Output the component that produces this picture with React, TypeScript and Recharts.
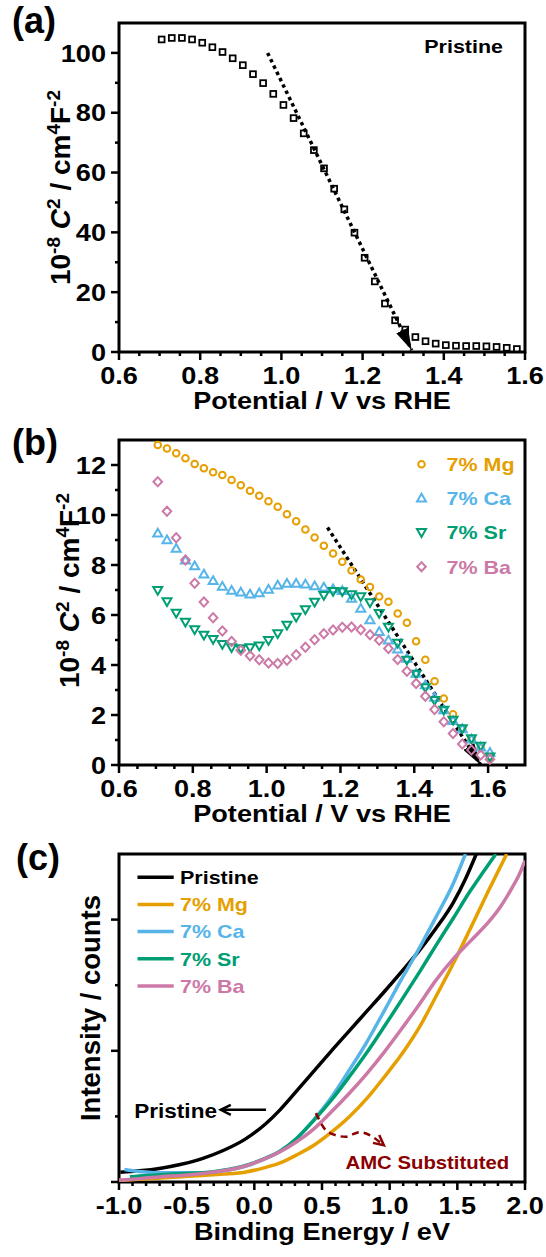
import React from "react";
import { ComposedChart, Scatter, Line, XAxis, YAxis, ReferenceArea } from "recharts";

const FONT = '"Liberation Sans", Arial, Helvetica, sans-serif';
const STRETCH = 1.13; // the source figure is a bit wider than tall
const ORANGE = "#E69F00";
const SKY = "#56B4E9";
const GREEN = "#009E73";
const PINK = "#CC79A7";
const DARKRED = "#8B0000";

// ---- (a) pristine Mott-Schottky ----
const potentialA = [
  0.705, 0.73, 0.755, 0.78, 0.805, 0.83, 0.855, 0.88, 0.905, 0.93, 0.955, 0.98,
  1.005, 1.03, 1.055, 1.08, 1.105, 1.13, 1.155, 1.18, 1.205, 1.23, 1.255, 1.28,
  1.305, 1.33, 1.355, 1.38, 1.405, 1.43, 1.455, 1.48, 1.505, 1.53, 1.555, 1.58,
];
const pristineA = [
  104.5, 105.0, 105.0, 104.5, 103.4, 101.9, 100.3, 98.2, 95.9, 92.9, 89.9, 86.3,
  82.6, 78.2, 73.1, 67.5, 61.4, 54.6, 47.7, 39.9, 31.5, 23.6, 16.2, 10.6,
  7.5, 5.0, 3.6, 2.8, 2.3, 2.1, 2.0, 2.0, 1.9, 1.7, 1.4, 1.0,
];
const fitAx = [0.966, 1.321];
const fitAy = [100, 0.6];

// ---- (b) substituted Mott-Schottky ----
const potentialB = [
  0.705, 0.73, 0.755, 0.78, 0.805, 0.83, 0.855, 0.88, 0.905, 0.93, 0.955, 0.98,
  1.005, 1.03, 1.055, 1.08, 1.105, 1.13, 1.155, 1.18, 1.205, 1.23, 1.255, 1.28,
  1.305, 1.33, 1.355, 1.38, 1.405, 1.43, 1.455, 1.48, 1.505, 1.53, 1.555, 1.58, 1.605,
];
const mgB = [
  12.8, 12.66, 12.47, 12.27, 12.04, 11.87, 11.71, 11.6, 11.4, 11.19, 10.97, 10.77,
  10.55, 10.33, 10.03, 9.75, 9.42, 9.1, 8.77, 8.46, 8.13, 7.78, 7.42, 7.12,
  6.74, 6.53, 6.06, 5.69, 4.95, 4.21, 3.35, 2.66, 2.03, 1.46, 1.02, 0.68, 0.28,
];
const caB = [
  9.27, 9.0, 8.66, 8.19, 7.96, 7.63, 7.37, 7.14, 6.98, 6.91, 6.83, 6.88,
  7.02, 7.19, 7.26, 7.26, 7.23, 7.16, 7.11, 7.04, 6.97, 6.66, 6.26, 5.8,
  5.33, 4.99, 4.63, 4.26, 3.66, 3.2, 2.7, 2.2, 1.77, 1.44, 1.03, 0.71, 0.5,
];
const srB = [
  6.99, 6.54, 6.08, 5.72, 5.42, 5.2, 5.03, 4.83, 4.7, 4.66, 4.7, 4.77,
  4.99, 5.26, 5.6, 5.92, 6.22, 6.52, 6.79, 6.95, 6.94, 6.82, 6.74, 6.5,
  6.07, 5.52, 4.88, 4.2, 3.64, 3.1, 2.59, 2.2, 1.8, 1.46, 1.06, 0.76, 0.33,
];
const baB = [
  11.33, 10.15, 9.09, 8.2, 7.27, 6.52, 5.89, 5.36, 4.94, 4.59, 4.37, 4.21,
  4.08, 4.06, 4.19, 4.41, 4.71, 5.01, 5.25, 5.4, 5.51, 5.52, 5.41, 5.21,
  4.99, 4.66, 4.22, 3.75, 3.26, 2.75, 2.22, 1.73, 1.26, 0.84, 0.6, 0.4, 0.23,
];
const fitBx = [1.165, 1.58];
const fitBy = [9.5, 0];

// ---- (c) valence band spectra ----
const pristineCx = [-0.99, -0.85, -0.69, -0.54, -0.38, -0.23, -0.07, 0.08, 0.19, 0.31, 0.44, 0.57, 0.7, 0.83, 0.96, 1.09, 1.22, 1.34, 1.47, 1.56, 1.64];
const pristineCy = [0.15, 0.17, 0.21, 0.27, 0.36, 0.48, 0.65, 0.88, 1.1, 1.38, 1.69, 2.0, 2.3, 2.6, 2.9, 3.21, 3.53, 3.86, 4.26, 4.62, 5.0];
const mgCx = [-1.0, -0.85, -0.69, -0.54, -0.38, -0.23, -0.07, 0.08, 0.19, 0.31, 0.44, 0.57, 0.7, 0.83, 0.96, 1.09, 1.22, 1.34, 1.47, 1.6, 1.73, 1.865];
const mgCy = [0.025, 0.04, 0.06, 0.08, 0.1, 0.12, 0.15, 0.22, 0.29, 0.41, 0.56, 0.76, 0.99, 1.27, 1.6, 1.95, 2.36, 2.82, 3.33, 3.88, 4.44, 5.0];
const caCx = [-0.96, -0.85, -0.69, -0.54, -0.38, -0.23, -0.07, 0.08, 0.19, 0.31, 0.44, 0.57, 0.7, 0.83, 0.96, 1.09, 1.215, 1.34, 1.47, 1.56];
const caCy = [0.19, 0.16, 0.14, 0.14, 0.14, 0.17, 0.24, 0.355, 0.47, 0.66, 0.95, 1.29, 1.7, 2.13, 2.61, 3.1, 3.55, 4.03, 4.55, 5.0];
const srCx = [-0.92, -0.85, -0.69, -0.54, -0.38, -0.23, -0.07, 0.08, 0.19, 0.31, 0.44, 0.57, 0.7, 0.83, 0.96, 1.09, 1.22, 1.34, 1.47, 1.59, 1.69, 1.785];
const srCy = [0.08, 0.09, 0.11, 0.13, 0.14, 0.18, 0.25, 0.36, 0.47, 0.66, 0.94, 1.25, 1.6, 1.97, 2.37, 2.78, 3.2, 3.6, 4.02, 4.42, 4.72, 5.0];
const baCx = [-1.0, -0.85, -0.69, -0.54, -0.38, -0.23, -0.07, 0.08, 0.19, 0.31, 0.44, 0.57, 0.7, 0.83, 0.96, 1.09, 1.22, 1.34, 1.47, 1.6, 1.73, 1.82, 1.9, 1.96, 2.0];
const baCy = [0.025, 0.05, 0.08, 0.1, 0.13, 0.17, 0.24, 0.355, 0.46, 0.61, 0.81, 1.07, 1.35, 1.65, 1.98, 2.34, 2.71, 3.07, 3.4, 3.68, 3.96, 4.2, 4.47, 4.7, 4.9];
const pristineArrowX = [0.086, -0.248];
const pristineArrowY = [1.1, 1.1];
const amcX = [0.455, 0.545, 0.674, 0.777, 0.957];
const amcY = [1.05, 0.76, 0.69, 0.76, 0.56];

// ---- tick labels ----
const xMajorAB = [0.6, 0.8, 1.0, 1.2, 1.4, 1.6];
const yMajorA = [0, 20, 40, 60, 80, 100];
const yMajorB = [0, 2, 4, 6, 8, 10, 12];
const xMajorC = [-1.0, -0.5, 0.0, 0.5, 1.0, 1.5, 2.0];
const yMajorC = [0, 2, 4];

const zip = (xs: number[], ys: number[]) => xs.map((x, i) => ({ x, y: ys[i] }));

// majors plus evenly split minor ticks, up to (not incl.) max
function withMinors(majors: number[], sub: number, max: number) {
  const step = (majors[1] - majors[0]) / sub;
  const out: number[] = [];
  for (let v = majors[0]; v < max - 1e-9; v += step) out.push(Math.round(v * 1000) / 1000);
  return out;
}
const isIn = (v: number, arr: number[]) => arr.some((m) => Math.abs(m - v) < 1e-6);

// bold Arial, widened like the source
function SText(props: { x: number; y: number; size: number; fill?: string; anchor?: "start" | "middle" | "end"; dy?: string; children: React.ReactNode }) {
  const { x, y, size, fill = "#000", anchor = "start", dy, children } = props;
  return (
    <g transform={`translate(${x} ${y}) scale(${STRETCH} 1)`}>
      <text x={0} y={0} dy={dy} textAnchor={anchor} fontSize={size} fontWeight={700} fontFamily={FONT} fill={fill}>
        {children}
      </text>
    </g>
  );
}

function bottomTick(majors: number[], fmt: (v: number) => string) {
  return (p: any) => {
    const v = p.payload.value;
    const major = isIn(v, majors);
    return (
      <g>
        <line x1={p.x} x2={p.x} y1={p.y} y2={p.y + (major ? 8 : 4)} stroke="#000" strokeWidth={2.5} />
        {major && (
          <SText x={p.x} y={p.y + 15} dy="0.71em" anchor="middle" size={24}>
            {fmt(v)}
          </SText>
        )}
      </g>
    );
  };
}

function leftTick(majors: number[], fmt: ((v: number) => string) | null) {
  return (p: any) => {
    const v = p.payload.value;
    const major = isIn(v, majors);
    return (
      <g>
        <line x1={p.x} x2={p.x - (major ? 8 : 4)} y1={p.y} y2={p.y} stroke="#000" strokeWidth={2.5} />
        {major && fmt && (
          <SText x={p.x - 13} y={p.y} dy="0.36em" anchor="end" size={24}>
            {fmt(v)}
          </SText>
        )}
      </g>
    );
  };
}

const xTitle = (txt: string, off: number) => (p: any) => {
  const vb = p.viewBox;
  return (
    <SText x={vb.x + vb.width / 2} y={vb.y + off} anchor="middle" size={24}>
      {txt}
    </SText>
  );
};

const msTitle = (baseX: number, dyc: number) => (p: any) => {
  const vb = p.viewBox;
  const cx = vb.x + baseX;
  const cy = vb.y + vb.height / 2 + dyc;
  return (
    <text transform={`rotate(-90 ${cx} ${cy})`} x={cx} y={cy} textAnchor="middle" fontSize={28} fontWeight={700} fontFamily={FONT} fill="#000">
      10<tspan dy={-10} fontSize={19}>-8</tspan>
      <tspan dy={10}>{"\u00A0"}</tspan>
      <tspan fontStyle="italic">C</tspan>
      <tspan dy={-10} fontSize={19}>2</tspan>
      <tspan dy={10}>{"\u00A0/ cm"}</tspan>
      <tspan dy={-10} fontSize={19}>4</tspan>
      <tspan dy={10}>F</tspan>
      <tspan dy={-10} fontSize={19}>-2</tspan>
    </text>
  );
};

const plainYTitle = (txt: string, baseX: number, dyc: number) => (p: any) => {
  const vb = p.viewBox;
  const cx = vb.x + baseX;
  const cy = vb.y + vb.height / 2 + dyc;
  return (
    <text transform={`rotate(-90 ${cx} ${cy})`} x={cx} y={cy} textAnchor="middle" fontSize={27.5} fontWeight={700} fontFamily={FONT} fill="#000">
      {txt}
    </text>
  );
};

// open markers
const squareShape = (p: any) => (
  <rect x={p.cx - 2.9} y={p.cy - 2.9} width={5.8} height={5.8} fill="none" stroke="#000" strokeWidth={1.8} />
);
const circleShape = (c: string) => (p: any) => <circle cx={p.cx} cy={p.cy} r={3.3} fill="none" stroke={c} strokeWidth={2} />;
const triUpShape = (c: string) => (p: any) => (
  <polygon points={`${p.cx},${p.cy - 4.6} ${p.cx + 4.5},${p.cy + 3.2} ${p.cx - 4.5},${p.cy + 3.2}`} fill="none" stroke={c} strokeWidth={2} />
);
const triDownShape = (c: string) => (p: any) => (
  <polygon points={`${p.cx},${p.cy + 4.6} ${p.cx + 4.5},${p.cy - 3.2} ${p.cx - 4.5},${p.cy - 3.2}`} fill="none" stroke={c} strokeWidth={2} />
);
const diamondShape = (c: string) => (p: any) => (
  <polygon points={`${p.cx},${p.cy - 4.6} ${p.cx + 4.3},${p.cy} ${p.cx},${p.cy + 4.6} ${p.cx - 4.3},${p.cy}`} fill="none" stroke={c} strokeWidth={2} />
);

const seriesB = [
  { name: "7% Mg", color: ORANGE, values: mgB, shape: circleShape },
  { name: "7% Ca", color: SKY, values: caB, shape: triUpShape },
  { name: "7% Sr", color: GREEN, values: srB, shape: triDownShape },
  { name: "7% Ba", color: PINK, values: baB, shape: diamondShape },
];

const seriesC = [
  { name: "Pristine", color: "#000", xs: pristineCx, ys: pristineCy },
  { name: "7% Mg", color: ORANGE, xs: mgCx, ys: mgCy },
  { name: "7% Ca", color: SKY, xs: caCx, ys: caCy },
  { name: "7% Sr", color: GREEN, xs: srCx, ys: srCy },
  { name: "7% Ba", color: PINK, xs: baCx, ys: baCy },
];

const fmt1 = (v: number) => v.toFixed(1);
const fmt0 = (v: number) => String(v);

const axisCommon = {
  type: "number" as const,
  allowDataOverflow: true,
  interval: 0 as const,
  tickSize: 0,
  tickMargin: 0,
  tickLine: false,
  axisLine: false,
};

const frame = (x1: number, x2: number, y1: number, y2: number) => (
  <ReferenceArea x1={x1} x2={x2} y1={y1} y2={y2} fill="none" stroke="#000" strokeWidth={3} ifOverflow="visible" />
);

export default function App() {
  return (
    <div style={{ position: "absolute", left: 0, top: 0, width: 546, height: 1257, background: "#fff" }}>
      <svg width={0} height={0} style={{ position: "absolute" }}>
        <defs>
          <marker id="headFill" viewBox="0 0 22 13" refX={22} refY={6.5} markerWidth={22} markerHeight={13} markerUnits="userSpaceOnUse" orient="auto">
            <path d="M0,0 L22,6.5 L0,13 Z" fill="#000" />
          </marker>
          <marker id="headOpenBlack" viewBox="0 0 12 12" refX={11} refY={6} markerWidth={12} markerHeight={12} markerUnits="userSpaceOnUse" orient="auto" overflow="visible">
            <path d="M1,1 L11,6 L1,11" fill="none" stroke="#000" strokeWidth={2.5} />
          </marker>
          <marker id="headOpenRed" viewBox="0 0 12 12" refX={11} refY={6} markerWidth={12} markerHeight={12} markerUnits="userSpaceOnUse" orient="auto" overflow="visible">
            <path d="M1,1 L11,6 L1,11" fill="none" stroke={DARKRED} strokeWidth={2.5} />
          </marker>
        </defs>
      </svg>

      {/* (a) */}
      <div style={{ position: "absolute", left: 0, top: 0 }}>
        <ComposedChart width={546} height={420} margin={{ top: 23, right: 21, bottom: 0, left: 0 }}>
          <XAxis {...axisCommon} dataKey="x" domain={[0.6, 1.6]} ticks={withMinors(xMajorAB, 4, 1.6001)} height={68} tick={bottomTick(xMajorAB, fmt1)} label={xTitle("Potential / V vs RHE", 57)} />
          <YAxis {...axisCommon} dataKey="y" domain={[0, 110]} ticks={withMinors(yMajorA, 2, 110)} width={119} tick={leftTick(yMajorA, fmt0)} label={msTitle(70, 0)} />
          {frame(0.6, 1.6, 0, 110)}
          <Scatter data={zip(potentialA, pristineA)} shape={squareShape} isAnimationActive={false} />
          <Line data={zip(fitAx, fitAy)} dataKey="y" type="linear" stroke="#000" strokeWidth={3.5} strokeDasharray="3.5 3.5" dot={false} activeDot={false} markerEnd="url(#headFill)" isAnimationActive={false} />
        </ComposedChart>
      </div>

      {/* (b) */}
      <div style={{ position: "absolute", left: 0, top: 420 }}>
        <ComposedChart width={546} height={420} margin={{ top: 20, right: 21, bottom: 0, left: 0 }}>
          <XAxis {...axisCommon} dataKey="x" domain={[0.6, 1.7]} ticks={withMinors(xMajorAB, 4, 1.7)} height={75} tick={bottomTick(xMajorAB, fmt1)} label={xTitle("Potential / V vs RHE", 57)} />
          <YAxis {...axisCommon} dataKey="y" domain={[0, 13]} ticks={withMinors(yMajorB, 2, 13)} width={119} tick={leftTick(yMajorB, fmt0)} label={msTitle(79, -12)} />
          {frame(0.6, 1.7, 0, 13)}
          {seriesB.map((s) => (
            <Scatter key={s.name} name={s.name} data={zip(potentialB, s.values)} shape={s.shape(s.color)} isAnimationActive={false} />
          ))}
          <Line data={zip(fitBx, fitBy)} dataKey="y" type="linear" stroke="#000" strokeWidth={3.5} strokeDasharray="3.5 3.5" dot={false} activeDot={false} markerEnd="url(#headFill)" isAnimationActive={false} />
        </ComposedChart>
      </div>

      {/* (c) */}
      <div style={{ position: "absolute", left: 0, top: 830 }}>
        <ComposedChart width={546} height={427} margin={{ top: 24, right: 21, bottom: 0, left: 0 }}>
          <XAxis {...axisCommon} dataKey="x" domain={[-1, 2]} ticks={withMinors(xMajorC, 5, 2.0001)} height={75} tick={bottomTick(xMajorC, fmt1)} label={xTitle("Binding Energy / eV", 58)} />
          <YAxis {...axisCommon} dataKey="y" domain={[0, 5]} ticks={withMinors(yMajorC, 2, 5)} width={119} tick={leftTick(yMajorC, null)} label={plainYTitle("Intensity / counts", 100, -10)} />
          {frame(-1, 2, 0, 5)}
          {seriesC.map((s) => (
            <Line key={s.name} name={s.name} data={zip(s.xs, s.ys)} dataKey="y" type="monotone" stroke={s.color} strokeWidth={3.5} dot={false} activeDot={false} isAnimationActive={false} />
          ))}
          <Line data={zip(pristineArrowX, pristineArrowY)} dataKey="y" type="linear" stroke="#000" strokeWidth={2.5} dot={false} activeDot={false} markerEnd="url(#headOpenBlack)" isAnimationActive={false} />
          <Line data={zip(amcX, amcY)} dataKey="y" type="monotone" stroke={DARKRED} strokeWidth={2.5} strokeDasharray="7 5" dot={false} activeDot={false} markerEnd="url(#headOpenRed)" isAnimationActive={false} />
        </ComposedChart>
      </div>

      {/* panel letters, legends, annotations */}
      <svg width={546} height={1257} style={{ position: "absolute", left: 0, top: 0, pointerEvents: "none" }}>
        <g fontFamily={FONT} fontWeight={700} fontSize={36} fill="#000">
          <text x={12} y={33}>(a)</text>
          <text x={12} y={455}>(b)</text>
          <text x={16} y={870}>(c)</text>
        </g>
        <SText x={503} y={53} size={19} anchor="end">Pristine</SText>

        {seriesB.map((s, i) => {
          const cy = [464.3, 498.3, 532.3, 566.7][i];
          return (
            <g key={s.name}>
              {s.shape(s.color)({ cx: 421.5, cy })}
              <SText x={446.6} y={cy} dy="0.36em" size={19} fill={s.color}>{s.name}</SText>
            </g>
          );
        })}

        {seriesC.map((s, i) => {
          const cy = [877.3, 904.6, 931.5, 958.8, 986.1][i];
          return (
            <g key={s.name}>
              <line x1={137.5} x2={173.7} y1={cy} y2={cy} stroke={s.color} strokeWidth={3.5} />
              <SText x={180} y={cy} dy="0.36em" size={19} fill={s.color}>{s.name}</SText>
            </g>
          );
        })}

        <SText x={217} y={1118} size={20} anchor="end">Pristine</SText>
        <SText x={345.5} y={1169} size={18} fill={DARKRED}>AMC Substituted</SText>
      </svg>
    </div>
  );
}
